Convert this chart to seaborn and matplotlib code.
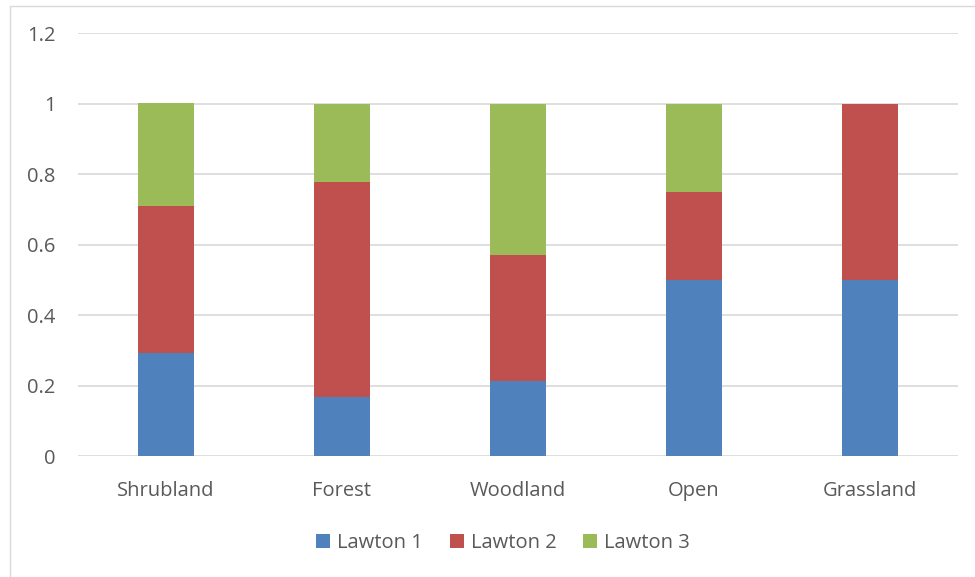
import numpy as np
import pandas as pd
import matplotlib.pyplot as plt
import seaborn as sns
from matplotlib.lines import Line2D
from matplotlib.patches import Patch

categories = ["Shrubland", "Forest", "Woodland", "Open", "Grassland"]
series = ["Lawton 1", "Lawton 2", "Lawton 3"]
lawton1 = [0.292, 0.167, 0.214, 0.5, 0.5]
lawton2 = [0.417, 0.611, 0.357, 0.25, 0.5]
lawton3 = [0.292, 0.222, 0.429, 0.25, 0.0]
colors = ["#4F81BD", "#C0504D", "#9BBB59"]
yticks = [0, 0.2, 0.4, 0.6, 0.8, 1.0, 1.2]
ytick_labels = ["0", "0.2", "0.4", "0.6", "0.8", "1", "1.2"]

df = pd.DataFrame({"category": categories, "Lawton 1": lawton1,
                   "Lawton 2": lawton2, "Lawton 3": lawton3})
# cumulative tops, drawn back to front so the stacks show
df["top1"] = df["Lawton 1"]
df["top2"] = df["top1"] + df["Lawton 2"]
df["top3"] = df["top2"] + df["Lawton 3"]

sns.set_style("white")
plt.rcParams["font.family"] = ["Open Sans", "DejaVu Sans"]
text_color = "#595959"

fig = plt.figure(figsize=(9.75, 5.77), dpi=100)
ax = fig.add_axes([78 / 975, 1 - 456.3 / 577, 880 / 975, 423.1 / 577])

for col, c in zip(["top3", "top2", "top1"], colors[::-1]):
    sns.barplot(data=df, x="category", y=col, color=c, width=0.32,
                saturation=1, ax=ax, zorder=3, edgecolor="none")

ax.set_xlim(-0.5, 4.5)
ax.set_ylim(0, 1.2)
ax.set_yticks(yticks)
ax.set_yticklabels(ytick_labels)
ax.set_xlabel("")
ax.set_ylabel("")
ax.yaxis.grid(True, color="#D9D9D9", linewidth=1.2, zorder=0)
ax.set_axisbelow(True)
for s in ax.spines.values():
    s.set_visible(False)
ax.tick_params(axis="both", length=0, labelsize=14.5, labelcolor=text_color)
ax.tick_params(axis="y", pad=16)
ax.tick_params(axis="x", pad=18)

handles = [Patch(facecolor=c, edgecolor="none") for c in colors]
fig.legend(handles, series, loc="center", bbox_to_anchor=(503 / 975, 1 - 543 / 577),
           ncol=3, frameon=False, fontsize=14.5, labelcolor=text_color,
           handlelength=0.7, handleheight=0.7, handletextpad=0.35,
           columnspacing=1.3)

# outer chart border
fig.add_artist(Line2D([9.5 / 975, 9.5 / 975], [0, 1 - 5.5 / 577],
                      transform=fig.transFigure, color="#D9D9D9", linewidth=1))
fig.add_artist(Line2D([9.5 / 975, 1], [1 - 5.5 / 577, 1 - 5.5 / 577],
                      transform=fig.transFigure, color="#D9D9D9", linewidth=1))

fig.savefig("out.png", dpi=100)
